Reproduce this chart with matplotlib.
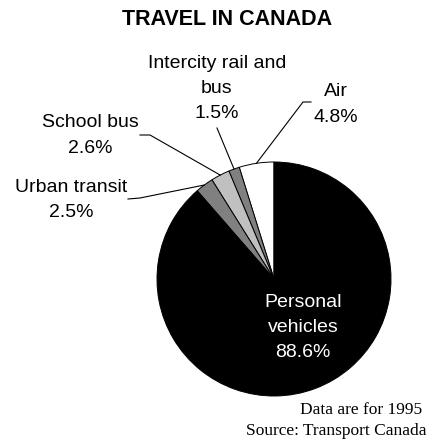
import numpy as np
import matplotlib
matplotlib.use("Agg")
import matplotlib.pyplot as plt

# Chart data
labels = ["Air", "Intercity rail and\nbus", "School bus", "Urban transit", "Personal\nvehicles"]
shares = [4.8, 1.5, 2.6, 2.5, 88.6]
colors = ["#ffffff", "#808080", "#c0c0c0", "#808080", "#000000"]

W, H = 428, 448


def py(y):
    # pixel row (from top) to data y
    return H - y


fig = plt.figure(figsize=(W / 100, H / 100), dpi=100)
ax = fig.add_axes([0, 0, 1, 1])

# Pie
cx, cy, r = 274, py(279), 117
wedges, _ = ax.pie(shares, colors=colors, startangle=90, counterclock=True,
                   center=(cx, cy), radius=r, frame=True,
                   wedgeprops=dict(edgecolor="black", linewidth=0.7))
ax.set_xlim(0, W)
ax.set_ylim(0, H)
ax.set_aspect("equal")
ax.axis("off")

# Label positions (text centre) and leader elbows, in pixels from top
text_pos = [(336, 104.5), (217, 88.5), (90, 135.5), (71, 200), (303, 327.5)]
leaders = [[(303, 102), (311, 102)],
           [(217, 128)],
           [(150, 135), (140, 135)],
           [(140, 198), (128, 199)],
           None]

font = ["Liberation Sans", "DejaVu Sans"]
for w, lab, val, (tx, ty), lead in zip(wedges, labels, shares, text_pos, leaders):
    txt = f"{lab}\n{val}%"
    color = "white" if lead is None else "black"
    ax.text(tx, py(ty), txt, ha="center", va="center", fontsize=14,
            family=font, color=color, linespacing=1.62)
    if lead is not None:
        ang = np.deg2rad((w.theta1 + w.theta2) / 2)
        pts = [(cx + r * np.cos(ang), cy + r * np.sin(ang))]
        pts += [(x, py(y)) for x, y in lead]
        xs, ys = zip(*pts)
        ax.plot(xs, ys, color="black", linewidth=0.8)

# Title and notes
ax.text(227, py(19), "TRAVEL IN CANADA", ha="center", va="center",
        fontsize=15.5, fontweight="bold", family=font)
ax.text(422, py(410), "Data are for 1995", ha="right", va="center",
        fontsize=12.5, family=["Liberation Serif", "DejaVu Serif"])
ax.text(427, py(431), "Source: Transport Canada", ha="right", va="center",
        fontsize=12.5, family=["Liberation Serif", "DejaVu Serif"])

fig.savefig("out.png", dpi=100)
